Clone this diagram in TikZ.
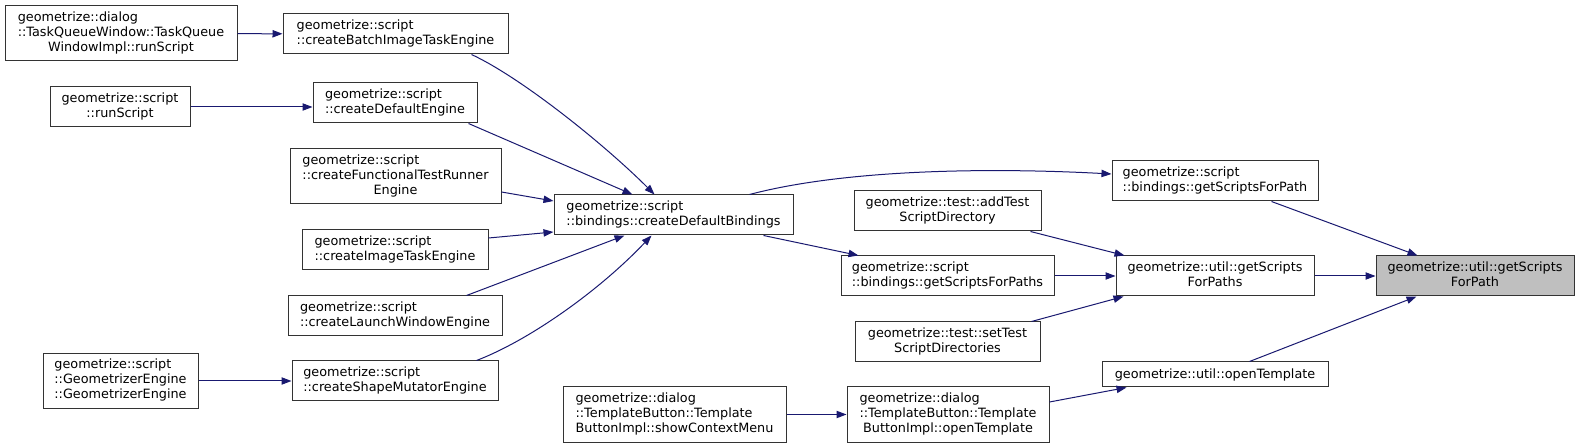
\documentclass[tikz,border=0pt]{standalone}
\usepackage{fontspec}
\setmainfont{DejaVu Sans}
\usetikzlibrary{arrows.meta,calc}
\definecolor{edgeblue}{HTML}{191970}
\definecolor{bordergray}{HTML}{333333}
\definecolor{targetgray}{HTML}{BFBFBF}
\newcommand\lbl[2]{\begin{tabular}{@{}l@{}}#1\\\multicolumn{1}{@{}c@{}}{#2}\end{tabular}}
\begin{document}
\begin{tikzpicture}[x=0.75pt,y=-0.75pt,
  box/.style={draw=bordergray, line width=0.75pt, fill=white, inner sep=0pt,
    font=\fontsize{9.6}{11.25}\selectfont, text=black},
  sz/.style 2 args={minimum width=#1*0.75pt, minimum height=#2*0.75pt},
  e/.style={draw=edgeblue, line width=0.75pt, -{Triangle[length=7.5pt,width=5.5pt]}}]
\fill[white] (0,0) rectangle (1580,448);
\useasboundingbox (0,0) rectangle (1580,448);

\node[box,sz={232}{55}] (tq) at (121,33.5) {\lbl{geometrize::dialog\\::TaskQueueWindow::TaskQueue}{WindowImpl::runScript}};
\node[box,sz={225}{40}] (batch) at (395.5,34) {\lbl{geometrize::script}{::createBatchImageTaskEngine}};
\node[box,sz={140}{40}] (rs) at (120,107) {\lbl{geometrize::script}{::runScript}};
\node[box,sz={164}{40}] (cde) at (395,103) {\lbl{geometrize::script}{::createDefaultEngine}};
\node[box,sz={211}{55}] (cft) at (395.5,176.5) {\lbl{geometrize::script\\::createFunctionalTestRunner}{Engine}};
\node[box,sz={186}{40}] (cit) at (395,250) {\lbl{geometrize::script}{::createImageTaskEngine}};
\node[box,sz={214}{40}] (clw) at (395,316) {\lbl{geometrize::script}{::createLaunchWindowEngine}};
\node[box,sz={155}{55}] (ge) at (120.5,381) {\lbl{geometrize::script\\::GeometrizerEngine}{::GeometrizerEngine}};
\node[box,sz={206}{40}] (csm) at (395,381) {\lbl{geometrize::script}{::createShapeMutatorEngine}};
\node[box,sz={239}{40}] (cdb) at (673.5,215) {\lbl{geometrize::script}{::bindings::createDefaultBindings}};
\node[box,sz={206}{40}] (gsfpb) at (1215,181) {\lbl{geometrize::script}{::bindings::getScriptsForPath}};
\node[box,sz={187}{40}] (addt) at (947.5,211) {\lbl{geometrize::test::addTest}{ScriptDirectory}};
\node[box,sz={213}{40}] (gsfpsb) at (947.5,276) {\lbl{geometrize::script}{::bindings::getScriptsForPaths}};
\node[box,sz={198}{40}] (ugsfps) at (1215,276) {\lbl{geometrize::util::getScripts}{ForPaths}};
\node[box,sz={198}{40},fill=targetgray] (gray) at (1475,276) {\lbl{geometrize::util::getScripts}{ForPath}};
\node[box,sz={185}{40}] (sett) at (947.5,342) {\lbl{geometrize::test::setTest}{ScriptDirectories}};
\node[box,sz={226}{25}] (uot) at (1215,374.5) {geometrize::util::openTemplate};
\node[box,sz={202}{55}] (tbo) at (948,414.5) {\lbl{geometrize::dialog\\::TemplateButton::Template}{ButtonImpl::openTemplate}};
\node[box,sz={223}{55}] (scm) at (674.5,414.5) {\lbl{geometrize::dialog\\::TemplateButton::Template}{ButtonImpl::showContextMenu}};

\draw[e] (tq) -- (batch);
\draw[e] (rs.east) -- (cde.west |- rs.east);
\draw[e] (ge) -- (csm);
\draw[e] (scm) -- (tbo);
\draw[e] (gsfpsb) -- (ugsfps);
\draw[e] (ugsfps) -- (gray);

\draw[e] ($(batch.south west)+(189,0)$) .. controls (522,78) and (605,145) .. ($(cdb.north west)+(101,0)$);
\draw[e] ($(cde.south east)+(-9,0)$) -- ($(cdb.north west)+(79,0)$);
\draw[e] ($(cft.east)+(0,15.5)$) -- ($(cdb.west)+(0,-14)$);
\draw[e] ($(cit.east)+(0,-12)$) -- ($(cdb.west)+(0,17)$);
\draw[e] ($(clw.north west)+(179,0)$) -- ($(cdb.south west)+(71,0)$);
\draw[e] ($(csm.north west)+(185,0)$) .. controls (530,340) and (600,290) .. ($(cdb.south west)+(98,0)$);

\draw[e] ($(cdb.north west)+(196,0)$) .. controls (850,168) and (1000,168) .. ($(gsfpb.west)+(0,-7)$);
\draw[e] ($(cdb.south west)+(210,0)$) -- ($(gsfpsb.north west)+(18,0)$);
\draw[e] ($(addt.south east)+(-11,0)$) -- ($(ugsfps.north west)+(9,0)$);
\draw[e] ($(sett.north east)+(-9,0)$) -- ($(ugsfps.south west)+(8,0)$);
\draw[e] ($(gsfpb.south west)+(160,0)$) -- ($(gray.north west)+(42,0)$);
\draw[e] ($(uot.north west)+(148,0)$) -- ($(gray.south west)+(41,0)$);
\draw[e] ($(tbo.east)+(0,-12.5)$) -- ($(uot.south west)+(25,0)$);
\end{tikzpicture}
\end{document}
